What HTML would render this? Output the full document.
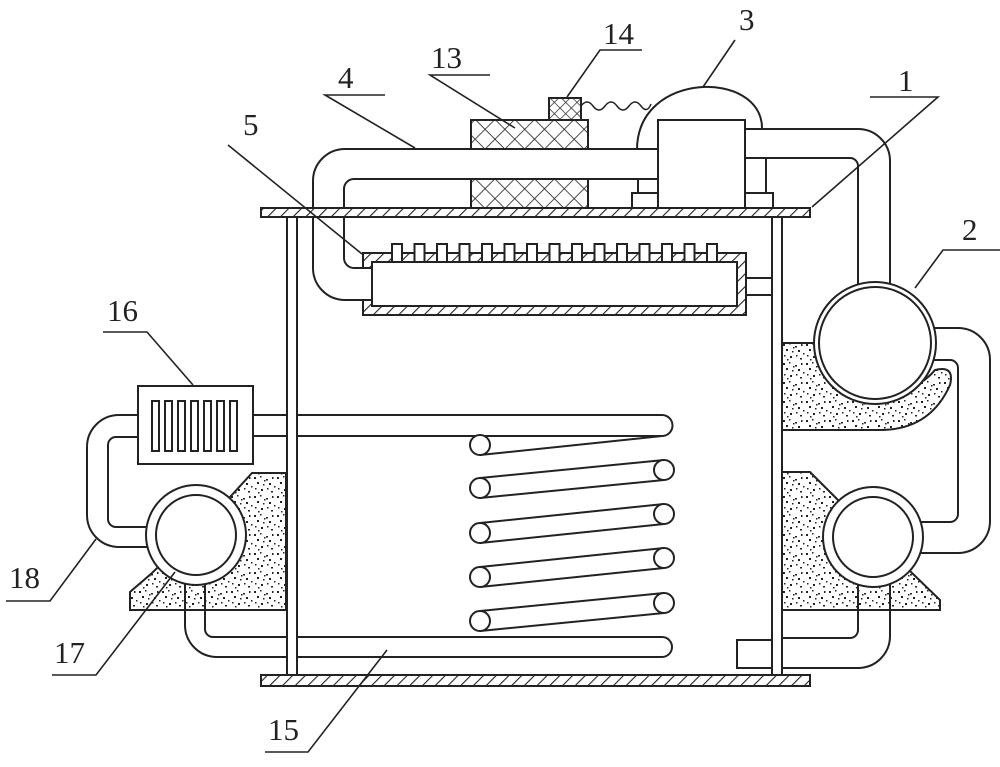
<!DOCTYPE html>
<html><head><meta charset="utf-8"><style>
html,body{margin:0;padding:0;background:#fff}
svg{display:block}
text{font-family:"Liberation Serif",serif;font-size:31px;fill:#222}
</style></head><body>
<svg width="1000" height="767" viewBox="0 0 1000 767" xmlns="http://www.w3.org/2000/svg">
<defs>
<pattern id="hatch" width="9" height="9" patternUnits="userSpaceOnUse" patternTransform="rotate(45)">
<rect width="9" height="9" fill="#fff"/><line x1="0" y1="0" x2="0" y2="9" stroke="#222" stroke-width="2.2"/></pattern>
<pattern id="cross" width="14" height="14" patternUnits="userSpaceOnUse" patternTransform="rotate(45)">
<rect width="14" height="14" fill="#fff"/><line x1="0" y1="0" x2="0" y2="14" stroke="#222" stroke-width="1.6"/><line x1="0" y1="0" x2="14" y2="0" stroke="#222" stroke-width="1.6"/></pattern>
<pattern id="cross2" width="8" height="8" patternUnits="userSpaceOnUse" patternTransform="rotate(45)">
<rect width="8" height="8" fill="#fff"/><line x1="0" y1="0" x2="0" y2="8" stroke="#222" stroke-width="1.4"/><line x1="0" y1="0" x2="8" y2="0" stroke="#222" stroke-width="1.4"/></pattern>
<pattern id="dots" width="23" height="19" patternUnits="userSpaceOnUse">
<rect width="23" height="19" fill="#fff"/>
<g fill="#222">
<rect x="1" y="2" width="2" height="2"/><rect x="7" y="1" width="1.5" height="1.5"/><rect x="13" y="4" width="2" height="1.5"/><rect x="19" y="2" width="1.5" height="2"/>
<rect x="4" y="7" width="2" height="2"/><rect x="10" y="9" width="1.5" height="1.5"/><rect x="16" y="8" width="2" height="2"/><rect x="21" y="11" width="1.5" height="1.5"/>
<rect x="2" y="13" width="1.5" height="1.5"/><rect x="8" y="14" width="2" height="2"/><rect x="14" y="13" width="1.5" height="1.5"/><rect x="18" y="16" width="2" height="1.5"/>
<rect x="5" y="17" width="1.5" height="1.5"/><rect x="11" y="5" width="1.5" height="1.5"/>
</g></pattern>
</defs>
<g stroke="#222" stroke-width="2" fill="none">
<!-- sand regions -->
<path d="M782,343 L830,343 A60,60 0 0 0 935,370 Q955,365 950,385 Q930,430 880,430 L782,430 Z" fill="url(#dots)"/>
<path d="M782,472 L810,472 L838,500 L900,560 L912,573 L940,600 L940,610 L782,610 Z" fill="url(#dots)"/>
<path d="M130,610 L130,592 L152,573 L230,497 L252,473 L286,473 L286,610 Z" fill="url(#dots)"/>

<!-- 13 filter -->
<rect x="471" y="120" width="117" height="88" fill="url(#cross)"/>
<!-- 14 -->
<rect x="549" y="98" width="32" height="22" fill="url(#cross2)"/>
<path d="M581,106 q6,-8 12,0 t12,0 t12,0 t12,0 t12,0 t10,-2" stroke-width="1.5"/>

<!-- dome 3 -->
<path d="M637,150 C637,70 762,70 762,128" fill="#fff"/>
<!-- pipe 4 -->
<path d="M658,149 L345,149 A32,32 0 0 0 313,181 L313,268 A32,32 0 0 0 345,300 L363,300" fill="none"/>
<rect x="345" y="150" width="313" height="28" fill="#fff" stroke="none"/>
<rect x="314" y="180" width="30" height="90" fill="#fff" stroke="none"/>
<line x1="345" y1="149" x2="658" y2="149"/>
<path d="M658,179 L354,179 A10,10 0 0 0 344,189 L344,258 A10,10 0 0 0 354,268 L363,268"/>
<line x1="471" y1="149" x2="588" y2="149"/><line x1="471" y1="179" x2="588" y2="179"/>
<!-- 3 box and feet -->
<line x1="638" y1="179" x2="638" y2="193"/>
<line x1="766" y1="158" x2="766" y2="193"/>
<rect x="632" y="193" width="26" height="15" fill="#fff"/>
<rect x="745" y="193" width="28" height="15" fill="#fff"/>
<rect x="658" y="120" width="87" height="88" fill="#fff"/>
<!-- pipe from 3 right to 2 -->
<path d="M745,129 L858,129 A32,32 0 0 1 890,161 L890,290"/>
<path d="M745,158 L850,158 A8,8 0 0 1 858,166 L858,292"/>

<!-- plates -->
<rect x="261" y="208" width="549" height="9" fill="url(#hatch)"/>
<rect x="261" y="675" width="549" height="11" fill="url(#hatch)"/>

<!-- radiator 5 -->
<path d="M363,253 L746,253 L746,315 L363,315 L363,300 L372,300 L372,306 L737,306 L737,262 L372,262 L372,268 L363,268 Z" fill="url(#hatch)"/>
<rect x="372" y="262" width="365" height="44" fill="#fff"/>
<g fill="#fff">
<rect x="392" y="244" width="10" height="18"/><rect x="414.5" y="244" width="10" height="18"/><rect x="437" y="244" width="10" height="18"/><rect x="459.5" y="244" width="10" height="18"/><rect x="482" y="244" width="10" height="18"/><rect x="504.5" y="244" width="10" height="18"/><rect x="527" y="244" width="10" height="18"/><rect x="549.5" y="244" width="10" height="18"/><rect x="572" y="244" width="10" height="18"/><rect x="594.5" y="244" width="10" height="18"/><rect x="617" y="244" width="10" height="18"/><rect x="639.5" y="244" width="10" height="18"/><rect x="662" y="244" width="10" height="18"/><rect x="684.5" y="244" width="10" height="18"/><rect x="707" y="244" width="10" height="18"/>
</g>
<rect x="746" y="278" width="26" height="17" fill="#fff"/>

<!-- circle 2 and pipes -->
<path d="M930,328 L958,328 A32,32 0 0 1 990,360 L990,521 A32,32 0 0 1 958,553 L918,553"/>
<path d="M928,360 L950,360 A8,8 0 0 1 958,368 L958,514 A8,8 0 0 1 950,522 L918,522"/>
<circle cx="875" cy="343" r="61" fill="#fff"/>
<circle cx="875" cy="343" r="56"/>

<!-- lower right circle -->
<path d="M858,575 L858,630 A8,8 0 0 1 850,638 L782,638"/>
<path d="M890,575 L890,636 A32,32 0 0 1 858,668 L782,668"/>
<rect x="737" y="640" width="35" height="28" fill="#fff"/>
<circle cx="873" cy="537" r="50" fill="#fff"/>
<circle cx="873" cy="537" r="40"/>

<!-- left side -->
<path d="M138,415 L119,415 A32,32 0 0 0 87,447 L87,515 A32,32 0 0 0 119,547 L158,547"/>
<path d="M138,437 L116,437 A8,8 0 0 0 108,445 L108,519 A8,8 0 0 0 116,527 L158,527"/>
<path d="M205,575 L205,629 A8,8 0 0 0 213,637 L287,637"/>
<path d="M185,575 L185,625 A32,32 0 0 0 217,657 L287,657"/>
<circle cx="196" cy="535" r="50" fill="#fff"/>
<circle cx="196" cy="535" r="40"/>
<!-- 16 -->
<rect x="138" y="386" width="115" height="78" fill="#fff"/>
<g>
<rect x="152" y="401" width="7" height="50"/><rect x="165" y="401" width="7" height="50"/><rect x="178" y="401" width="7" height="50"/><rect x="191" y="401" width="7" height="50"/><rect x="204" y="401" width="7" height="50"/><rect x="217" y="401" width="7" height="50"/><rect x="230" y="401" width="7" height="50"/>
</g>
<!-- coil pipes -->
<path d="M253,415 L662,415 A10.5,10.5 0 0 1 662,436 L253,436"/>
<path d="M297,637 L662,637 A10,10 0 0 1 662,657 L297,657"/>
<rect x="288" y="218" width="8" height="456" fill="#fff" stroke="none"/>
<rect x="773" y="218" width="8" height="456" fill="#fff" stroke="none"/>
<line x1="287" y1="217" x2="287" y2="675"/><line x1="297" y1="217" x2="297" y2="675"/>
<line x1="772" y1="217" x2="772" y2="675"/><line x1="782" y1="217" x2="782" y2="675"/>

<!-- coils -->
<line x1="480" y1="455" x2="662" y2="436"/>
<circle cx="480" cy="445" r="10" fill="#fff"/>
<line x1="480" y1="478" x2="664" y2="460"/><line x1="480" y1="498" x2="664" y2="480"/>
<line x1="480" y1="523" x2="664" y2="504"/><line x1="480" y1="543" x2="664" y2="524"/>
<line x1="480" y1="567" x2="664" y2="548"/><line x1="480" y1="587" x2="664" y2="568"/>
<line x1="480" y1="611" x2="664" y2="593"/><line x1="480" y1="631" x2="664" y2="613"/>
<circle cx="480" cy="488" r="10" fill="#fff"/><circle cx="480" cy="533" r="10" fill="#fff"/><circle cx="480" cy="577" r="10" fill="#fff"/><circle cx="480" cy="621" r="10" fill="#fff"/>
<circle cx="664" cy="470" r="10" fill="#fff"/><circle cx="664" cy="514" r="10" fill="#fff"/><circle cx="664" cy="558" r="10" fill="#fff"/><circle cx="664" cy="603" r="10" fill="#fff"/>

<!-- leader lines -->
<g stroke-width="1.6">
<polyline points="870,97 938,97 812,207"/>
<polyline points="1000,250 943,250 915,288"/>
<polyline points="735,40 703,87"/>
<polyline points="642,50 600,50 567,97"/>
<polyline points="490,75 430,75 515,128"/>
<polyline points="385,95 325,95 415,148"/>
<polyline points="228,145 362,254"/>
<polyline points="103,332 147,332 193,385"/>
<polyline points="6,601 50,601 96,539"/>
<polyline points="52,675 96,675 175,572"/>
<polyline points="265,752 308,752 387,650"/>
</g>
</g>
<g>
<text x="898" y="91">1</text>
<text x="962" y="240">2</text>
<text x="739" y="30">3</text>
<text x="603" y="44">14</text>
<text x="431" y="68">13</text>
<text x="338" y="88">4</text>
<text x="243" y="135">5</text>
<text x="107" y="321">16</text>
<text x="9" y="588">18</text>
<text x="54" y="663">17</text>
<text x="268" y="740">15</text>
</g>
</svg>
</body></html>
